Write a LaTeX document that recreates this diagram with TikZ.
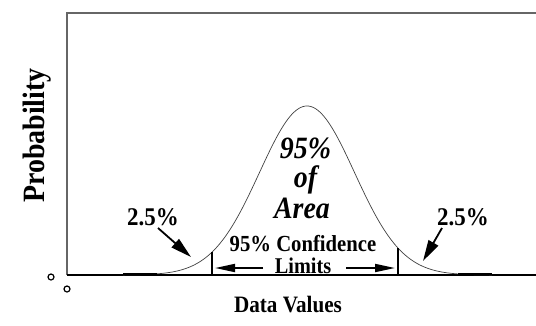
\documentclass[tikz,border=0pt]{standalone}
\usepackage{fontspec}
\setmainfont{Liberation Serif}
\usetikzlibrary{arrows.meta}
\newcommand{\narrow}[1]{\scalebox{0.9}[1]{#1}}
\begin{document}
\begin{tikzpicture}[x=1pt,y=-1pt,
  frame/.style={draw=black!60,line width=1.2pt},
  axisline/.style={draw=black,line width=1.2pt},
  bell/.style={draw=black!75,line width=0.7pt},
  limitline/.style={draw=black,line width=2.6pt},
  bigarrow/.style={draw=black,line width=1.8pt,-{Triangle[length=21pt,width=11pt]}},
  limarrow/.style={draw=black,line width=1.8pt,-{Triangle[length=20pt,width=8pt]}},
  lbl/.style={font=\bfseries\fontsize{#1}{#1}\selectfont,inner sep=0pt,anchor=base},
  ital/.style={font=\bfseries\itshape\fontsize{31}{31}\selectfont,inner sep=0pt,anchor=base},
  dot/.style={circle,draw=black,line width=1.2pt,minimum size=6pt,inner sep=0pt}]
\useasboundingbox (0,0) rectangle (536,325);
% frame
\coordinate (tl) at (67,13);
\coordinate (tr) at (536,13);
\coordinate (bl) at (67,275);
\coordinate (br) at (536,275);
\draw[frame] (bl) -- (tl) -- (tr);
\draw[axisline] (bl) -- (br);
% origin marks
\node[dot] (o1) at (51,277) {};
\node[dot] (o2) at (67,289) {};
% bell curve
\draw[bell] plot[domain=123:492,samples=200] (\x,{275-169*exp(-(((\x-307)/47.5)^2)/2)});
\draw[draw=black,line width=1.8pt] (123,274) -- (157,274);
\draw[draw=black,line width=1.8pt] (458,274) -- (492,274);
% confidence limits
\coordinate (l1a) at (212,252);
\coordinate (l1b) at (212,276);
\coordinate (l2a) at (398,248);
\coordinate (l2b) at (398,276);
\draw[limitline] (l1a) -- (l1b);
\draw[limitline] (l2a) -- (l2b);
% labels
\node[lbl=31,rotate=90] (prob) at (44,135.5) {\narrow{Probability}};
\node[lbl=23.5] (data) at (288,312) {\narrow{Data Values}};
\node[ital] (p95) at (305.5,158) {\narrow{95\%}};
\node[ital] (of) at (305.5,187) {\narrow{of}};
\node[ital] (area) at (302,218) {\narrow{Area}};
\node[lbl=25.5] (pl) at (153,225) {\narrow{2.5\%}};
\node[lbl=25.5] (pr) at (463,225) {\narrow{2.5\%}};
\node[lbl=23] (conf) at (303,251.5) {\narrow{95\% Confidence}};
\node[lbl=22.5] (lim) at (303,273.5) {\narrow{Limits}};
% arrows
\coordinate (al1) at (158,228);
\coordinate (al2) at (191,257);
\coordinate (ar1) at (442,228);
\coordinate (ar2) at (423,261);
\draw[bigarrow] (al1) -- (al2);
\draw[bigarrow] (ar1) -- (ar2);
\coordinate (la1) at (263,268);
\coordinate (la2) at (215,268);
\coordinate (ra1) at (346,268);
\coordinate (ra2) at (395,268);
\draw[limarrow] (la1) -- (la2);
\draw[limarrow] (ra1) -- (ra2);
\end{tikzpicture}
\end{document}
